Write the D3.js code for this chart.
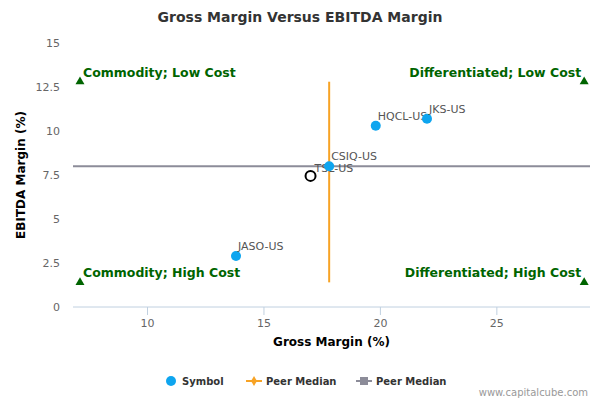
<!DOCTYPE html>
<html><head><meta charset="utf-8">
<script src="https://cdn.jsdelivr.net/npm/d3@7"></script>
<style>body{margin:0;background:#fff}text{font-family:"DejaVu Sans",sans-serif}</style>
</head><body><svg id="c" width="600" height="400"></svg>
<script>
const symbols = ["JASO-US", "TSL-US", "CSIQ-US", "HQCL-US", "JKS-US"];
const grossMargin = [13.8, 17.0, 17.8, 19.8, 22.0];
const ebitdaMargin = [2.9, 7.45, 8.0, 10.3, 10.7];
const peerGross = 17.8, peerEbitda = 8.0;
const xTicks = [10, 15, 20, 25];
const yTicks = [0, 2.5, 5, 7.5, 10, 12.5, 15];
const quadrants = ["Commodity; Low Cost", "Differentiated; Low Cost", "Commodity; High Cost", "Differentiated; High Cost"];

const svg = d3.select('#c');
const L = 73, R = 590, T = 43, B = 307;
const x = d3.scaleLinear().domain([6.8, 29]).range([L, R]);
const y = d3.scaleLinear().domain([0, 15]).range([B, T]);

svg.append('text').attr('x', 300).attr('y', 22).attr('text-anchor', 'middle')
  .style('font-size', '14px').style('font-weight', 'bold').attr('fill', '#333').text('Gross Margin Versus EBITDA Margin');

// y labels
yTicks.forEach(t => svg.append('text').attr('x', 60).attr('y', y(t) + 4).attr('text-anchor', 'end')
  .style('font-size', '11px').attr('fill', '#666').text(t));
svg.append('line').attr('x1', L).attr('x2', R).attr('y1', B).attr('y2', B).attr('stroke', '#c0d0e0');
xTicks.forEach(t => {
  svg.append('line').attr('x1', x(t)).attr('x2', x(t)).attr('y1', B).attr('y2', B + 8).attr('stroke', '#c0d0e0');
  svg.append('text').attr('x', x(t)).attr('y', B + 20).attr('text-anchor', 'middle')
    .style('font-size', '11px').attr('fill', '#666').text(t);
});
svg.append('text').attr('x', (L + R) / 2).attr('y', 346).attr('text-anchor', 'middle')
  .style('font-size', '12px').style('font-weight', 'bold').attr('fill', '#000').text('Gross Margin (%)');
svg.append('text').attr('transform', `translate(25,${(T + B) / 2}) rotate(-90)`).attr('text-anchor', 'middle')
  .style('font-size', '12px').style('font-weight', 'bold').attr('fill', '#000').text('EBITDA Margin (%)');

// medians
svg.append('line').attr('x1', x(6.8)).attr('x2', x(29)).attr('y1', y(peerEbitda)).attr('y2', y(peerEbitda))
  .attr('stroke', '#8c8c99').attr('stroke-width', 2);
svg.append('line').attr('x1', x(peerGross)).attr('x2', x(peerGross)).attr('y1', y(1.4)).attr('y2', y(12.8))
  .attr('stroke', '#f7a325').attr('stroke-width', 2);

// quadrant markers
const tri = d3.symbol().type(d3.symbolTriangle).size(35);
[[7.1, 12.8, 'start'], [28.75, 12.8, 'end'], [7.1, 1.4, 'start'], [28.75, 1.4, 'end']].forEach((q, i) => {
  svg.append('path').attr('d', tri).attr('transform', `translate(${x(q[0])},${y(q[1])})`).attr('fill', '#006400');
  svg.append('text').attr('x', q[2] === 'start' ? x(q[0]) + 3 : x(q[0]) - 3).attr('y', y(q[1]) - 5)
    .attr('text-anchor', q[2]).style('font-size', '12.5px').style('font-weight', 'bold').attr('fill', '#006400').text(quadrants[i]);
});

// points
symbols.forEach((s, i) => {
  const own = s === 'TSL-US';
  svg.append('circle').attr('cx', x(grossMargin[i])).attr('cy', y(ebitdaMargin[i])).attr('r', 5)
    .attr('fill', own ? '#fff' : '#0ea5ef').attr('stroke', own ? '#000' : 'none').attr('stroke-width', 2);
  svg.append('text').attr('x', x(grossMargin[i]) + (own ? 4 : 2)).attr('y', y(ebitdaMargin[i]) - (own ? 4 : 6))
    .style('font-size', '11px').attr('fill', '#555').text(s);
});

// legend
const lg = svg.append('g').attr('transform', 'translate(0,381)');
lg.append('circle').attr('cx', 171).attr('cy', 0).attr('r', 5).attr('fill', '#0ea5ef');
lg.append('text').attr('x', 182).attr('y', 4).style('font-size', '10px').style('font-weight', 'bold').attr('fill', '#333').text('Symbol');
lg.append('line').attr('x1', 246).attr('x2', 262).attr('y1', 0).attr('y2', 0).attr('stroke', '#f7a325').attr('stroke-width', 2);
lg.append('path').attr('d', d3.symbol().type(d3.symbolDiamond).size(30)).attr('transform', 'translate(254,0)').attr('fill', '#f7a325');
lg.append('text').attr('x', 266).attr('y', 4).style('font-size', '10px').style('font-weight', 'bold').attr('fill', '#333').text('Peer Median');
lg.append('line').attr('x1', 356).attr('x2', 372).attr('y1', 0).attr('y2', 0).attr('stroke', '#8c8c99').attr('stroke-width', 2);
lg.append('rect').attr('x', 360).attr('y', -4).attr('width', 8).attr('height', 8).attr('fill', '#8c8c99');
lg.append('text').attr('x', 376).attr('y', 4).style('font-size', '10px').style('font-weight', 'bold').attr('fill', '#333').text('Peer Median');

svg.append('text').attr('x', 588).attr('y', 396).attr('text-anchor', 'end').style('font-size', '10px').attr('fill', '#999').text('www.capitalcube.com');
</script></body></html>
